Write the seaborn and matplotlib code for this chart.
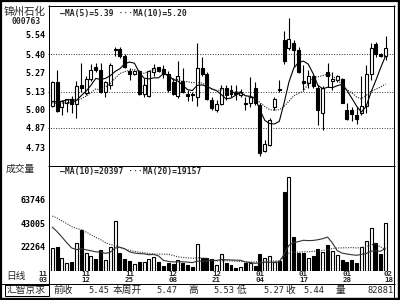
import numpy as np
import pandas as pd
import matplotlib
matplotlib.use("Agg")
import matplotlib.pyplot as plt
import seaborn as sns

# ---------------- data ----------------
stock_name = "锦州石化"
stock_code = "000763"

opens = [5.03, 5.20, 5.02, 5.05, 5.08, 5.04, 5.18, 5.12, 5.225, 5.31,
         5.29, 5.13, 5.18, 5.43, 5.44, 5.39, 5.28, 5.26, 5.28, 5.11,
         5.10, 5.27, 5.305, 5.295, 5.26, 5.20, 5.10, 5.21, 5.11, 5.11,
         5.095, 5.30, 5.26, 5.07, 5.00, 5.04, 5.155, 5.14, 5.13, 5.105,
         5.05, 5.045, 5.16, 5.035, 4.705, 4.745, 5.02, 5.15, 5.50, 5.445,
         5.48, 5.43, 5.205, 5.19, 5.24, 5.155, 4.975, 5.27, 5.21, 5.215,
         5.22, 5.00, 5.00, 4.96, 4.975, 5.025, 5.26, 5.475, 5.40, 5.39]
highs = [5.21, 5.29, 5.07, 5.08, 5.10, 5.21, 5.34, 5.24, 5.33, 5.335,
         5.335, 5.21, 5.335, 5.455, 5.455, 5.40, 5.30, 5.29, 5.29, 5.23,
         5.29, 5.33, 5.31, 5.32, 5.28, 5.23, 5.35, 5.30, 5.14, 5.13,
         5.48, 5.38, 5.27, 5.095, 5.07, 5.18, 5.18, 5.18, 5.18, 5.15,
         5.095, 5.235, 5.20, 5.045, 4.78, 4.94, 5.095, 5.215, 5.57, 5.66,
         5.50, 5.455, 5.32, 5.29, 5.25, 5.18, 5.17, 5.34, 5.275, 5.25,
         5.23, 5.045, 5.02, 5.02, 5.24, 5.32, 5.48, 5.49, 5.41, 5.53]
lows = [5.02, 4.98, 4.96, 4.98, 4.975, 4.94, 5.13, 5.105, 5.21, 5.275,
        5.12, 5.095, 5.15, 5.385, 5.37, 5.30, 5.215, 5.25, 5.105, 5.095,
        5.09, 5.24, 5.27, 5.23, 5.13, 5.105, 5.085, 5.12, 5.06, 5.06,
        5.03, 5.24, 5.07, 5.00, 4.985, 5.035, 5.07, 5.09, 5.07, 5.09,
        5.00, 5.02, 5.035, 4.665, 4.695, 4.735, 5.00, 5.13, 5.33, 5.43,
        5.31, 5.265, 5.14, 5.155, 5.155, 4.89, 4.855, 5.165, 5.14, 5.20,
        5.05, 4.925, 4.915, 4.90, 4.96, 4.975, 5.215, 5.38, 5.38, 5.36]
closes = [5.20, 4.99, 5.065, 5.075, 5.04, 5.17, 5.16, 5.225, 5.285, 5.29,
          5.13, 5.20, 5.32, 5.44, 5.39, 5.31, 5.26, 5.28, 5.11, 5.18,
          5.28, 5.30, 5.28, 5.26, 5.14, 5.11, 5.245, 5.13, 5.10, 5.105,
          5.30, 5.26, 5.08, 5.01, 5.04, 5.155, 5.105, 5.11, 5.115, 5.13,
          5.04, 5.09, 5.045, 4.685, 4.755, 4.925, 5.075, 5.14, 5.35, 5.51,
          5.43, 5.275, 5.19, 5.24, 5.17, 5.00, 5.155, 5.245, 5.225, 5.24,
          5.05, 4.935, 4.97, 4.935, 5.025, 5.26, 5.445, 5.40, 5.39, 5.445]
volumes = [20700, 21400, 11100, 7200, 7800, 25300, 36700, 16200, 13500, 10200,
           18600, 9600, 21100, 44800, 16200, 10800, 8700, 6000, 8100, 8100,
           10500, 12000, 8100, 4500, 7200, 5700, 9600, 6600, 5100, 3600,
           23800, 11100, 11100, 10500, 5400, 14700, 6600, 5100, 2700, 3000,
           7200, 6600, 4500, 15000, 11700, 13200, 7500, 8700, 71200, 84100,
           30600, 16200, 16200, 11700, 13500, 19500, 17100, 23100, 18000, 14100,
           9300, 8100, 9600, 6600, 21600, 27100, 38800, 25200, 15000, 42700]

# sessions before the visible window (only feed the moving averages)
prior_closes = [5.05, 5.03, 5.04, 5.05, 5.03, 5.01, 5.04, 5.03, 5.02]
prior_volumes = [58000, 62000, 57000, 60000, 59000, 61000, 58000, 60000, 59000, 59000,
                 62000, 60000, 58000, 55000, 40000, 30000, 25000, 22000, 20000]

date_months = ["11", "11", "11", "12", "12", "01", "01", "01", "02"]
date_days = ["03", "12", "25", "08", "21", "04", "17", "28", "18"]
date_label_pos = [-2, 7, 16, 25, 34, 43, 52, 61, 69.6]

price_ticks = [5.54, 5.40, 5.27, 5.13, 5.00, 4.87, 4.73]
price_grid = [5.40, 5.13, 4.87]
volume_ticks = [22264, 43005, 63746]

price_legend = "—MA(5)=5.39 ···MA(10)=5.20"
volume_legend = "—MA(10)=20397 ···MA(20)=19157"

info_items = [("前收", 53, "cjk"), ("5.45", 88, "num"), ("本周开", 113, "cjk"),
              ("5.47", 156, "num"), ("高", 188, "cjk"), ("5.53", 213, "num"),
              ("低", 237, "cjk"), ("5.27", 263, "num"), ("收", 285, "cjk"),
              ("5.44", 303, "num"), ("量", 336, "cjk"), ("82881", 367, "num")]

# ---------------- derived series ----------------
n = len(closes)
idx = np.arange(n)
full_close = pd.Series(prior_closes + closes)
ma5 = full_close.rolling(5).mean().to_numpy()[-n:]
ma10 = full_close.rolling(10).mean().to_numpy()[-n:]
full_vol = pd.Series(prior_volumes + volumes, dtype=float)
vma10 = full_vol.rolling(10).mean().to_numpy()[-n:]
vma20 = full_vol.rolling(20).mean().to_numpy()[-n:]
up = [c >= o for o, c in zip(opens, closes)]

# ---------------- style ----------------
sns.set_theme(style="white")
CJK = ["Noto Sans CJK SC", "DejaVu Sans"]
MONO = "DejaVu Sans Mono"
plt.rcParams["font.family"] = CJK

W, H = 400, 300
fig = plt.figure(figsize=(4, 3), dpi=100)
fig.patch.set_facecolor("white")

XL = (-0.89, 70.75)
ax_p = fig.add_axes([48 / W, 1 - 165 / H, 346 / W, 160 / H])
ax_v = fig.add_axes([48 / W, 1 - 270.7 / H, 346 / W, 105.7 / H])
for ax in (ax_p, ax_v):
    ax.set_facecolor("white")
    for s in ax.spines.values():
        s.set_visible(False)
    ax.set_xlim(*XL)
    ax.set_xticks([])
    ax.tick_params(axis="y", length=0, pad=2, labelsize=6, colors="black")

# price panel
ax_p.set_ylim(4.6007, 5.756)
ax_p.set_yticks(price_ticks)
ax_p.set_yticklabels([f"{v:.2f}" for v in price_ticks], family=MONO, weight="bold")
for g in price_grid:
    ax_p.axhline(g, color="#333333", lw=0.7, ls=(0, (1, 1.6)), zorder=1)

ax_p.vlines(idx, lows, highs, color="black", lw=0.8, zorder=2)
body_bottom = [min(o, c) for o, c in zip(opens, closes)]
body_h = [max(abs(c - o), 0.004) for o, c in zip(opens, closes)]
ax_p.bar(idx, body_h, bottom=body_bottom, width=0.62,
         color=["white" if u else "black" for u in up],
         edgecolor="black", linewidth=0.8, zorder=3)
sns.lineplot(x=idx, y=ma5, ax=ax_p, color="black", lw=0.8, zorder=4)
sns.lineplot(x=idx, y=ma10, ax=ax_p, color="#222222", lw=0.8,
             linestyle=(0, (1, 1.2)), zorder=4)
ax_p.set_xlabel("")
ax_p.set_ylabel("")

# volume panel
ax_v.set_ylim(0, 95300)
ax_v.set_yticks(volume_ticks)
ax_v.set_yticklabels([str(v) for v in volume_ticks], family=MONO, weight="bold")
ax_v.bar(idx, volumes, width=0.62,
         color=["white" if u else "black" for u in up],
         edgecolor="black", linewidth=0.8, zorder=3)
sns.lineplot(x=idx, y=vma10, ax=ax_v, color="#333333", lw=0.8, zorder=4)
sns.lineplot(x=idx, y=vma20, ax=ax_v, color="#333333", lw=0.8,
             linestyle=(0, (1, 1.2)), zorder=4)
ax_v.set_xlabel("")
ax_v.set_ylabel("")
xt = ax_v.get_xaxis_transform()
for pos, mo, dy in zip(date_label_pos, date_months, date_days):
    ax_v.text(pos, -0.032, mo, transform=xt, ha="center", va="center",
              fontsize=5.4, family=MONO, weight="bold", clip_on=False)
    ax_v.text(pos, -0.085, dy, transform=xt, ha="center", va="center",
              fontsize=5.4, family=MONO, weight="bold", clip_on=False)

# ---------------- overlay in pixel coordinates ----------------
ov = fig.add_axes([0, 0, 1, 1], zorder=10)
ov.set_xlim(0, W)
ov.set_ylim(H, 0)
ov.axis("off")
ov.patch.set_visible(False)

px = 0.72  # one pixel in points
def hline(y, x0, x1, w=1):
    ov.plot([x0, x1], [y, y], color="black", lw=w * px, solid_capstyle="butt")
def vline(x, y0, y1, w=1):
    ov.plot([x, x], [y0, y1], color="black", lw=w * px, solid_capstyle="butt")

# outer frame
hline(1, 0, W, 2.2)
hline(298.9, 0, W, 2.4)
vline(1, 0, H, 2.2)
vline(398.8, 0, H, 2.4)
# chart box
vline(48.5, 5, 283.5)
hline(5.5, 48, 394.5)
vline(394, 5, 299)
hline(165.5, 48, 394.5)
hline(283.5, 0, 394.5)
# broker box in the info bar
ov.add_patch(plt.Rectangle((4.5, 284.5), 44, 11.5, fill=False, ec="black", lw=px))

ov.text(25, 11.5, stock_name, ha="center", va="center", fontsize=7.6, family=CJK)
ov.text(26.5, 21.8, stock_code, ha="center", va="center", fontsize=5.8,
        family=MONO, weight="bold")
ov.text(60, 13.3, price_legend, ha="left", va="center", fontsize=5.8,
        family=MONO, weight="bold")
ov.text(20.5, 168.8, "成交量", ha="center", va="center", fontsize=7, family=CJK)
ov.text(60, 171.8, volume_legend, ha="left", va="center", fontsize=5.8,
        family=MONO, weight="bold")
ov.text(15.5, 276.5, "日线", ha="center", va="center", fontsize=7, family=CJK)
ov.text(26.5, 290.2, "汇智京求", ha="center", va="center", fontsize=7, family=CJK)
for txt, x0, kind in info_items:
    if kind == "cjk":
        ov.text(x0, 290.2, txt, ha="left", va="center", fontsize=7, family=CJK)
    else:
        ov.text(x0, 290.5, txt, ha="left", va="center", fontsize=6.3, family=MONO)

fig.savefig("out.png", dpi=100, facecolor="white")
